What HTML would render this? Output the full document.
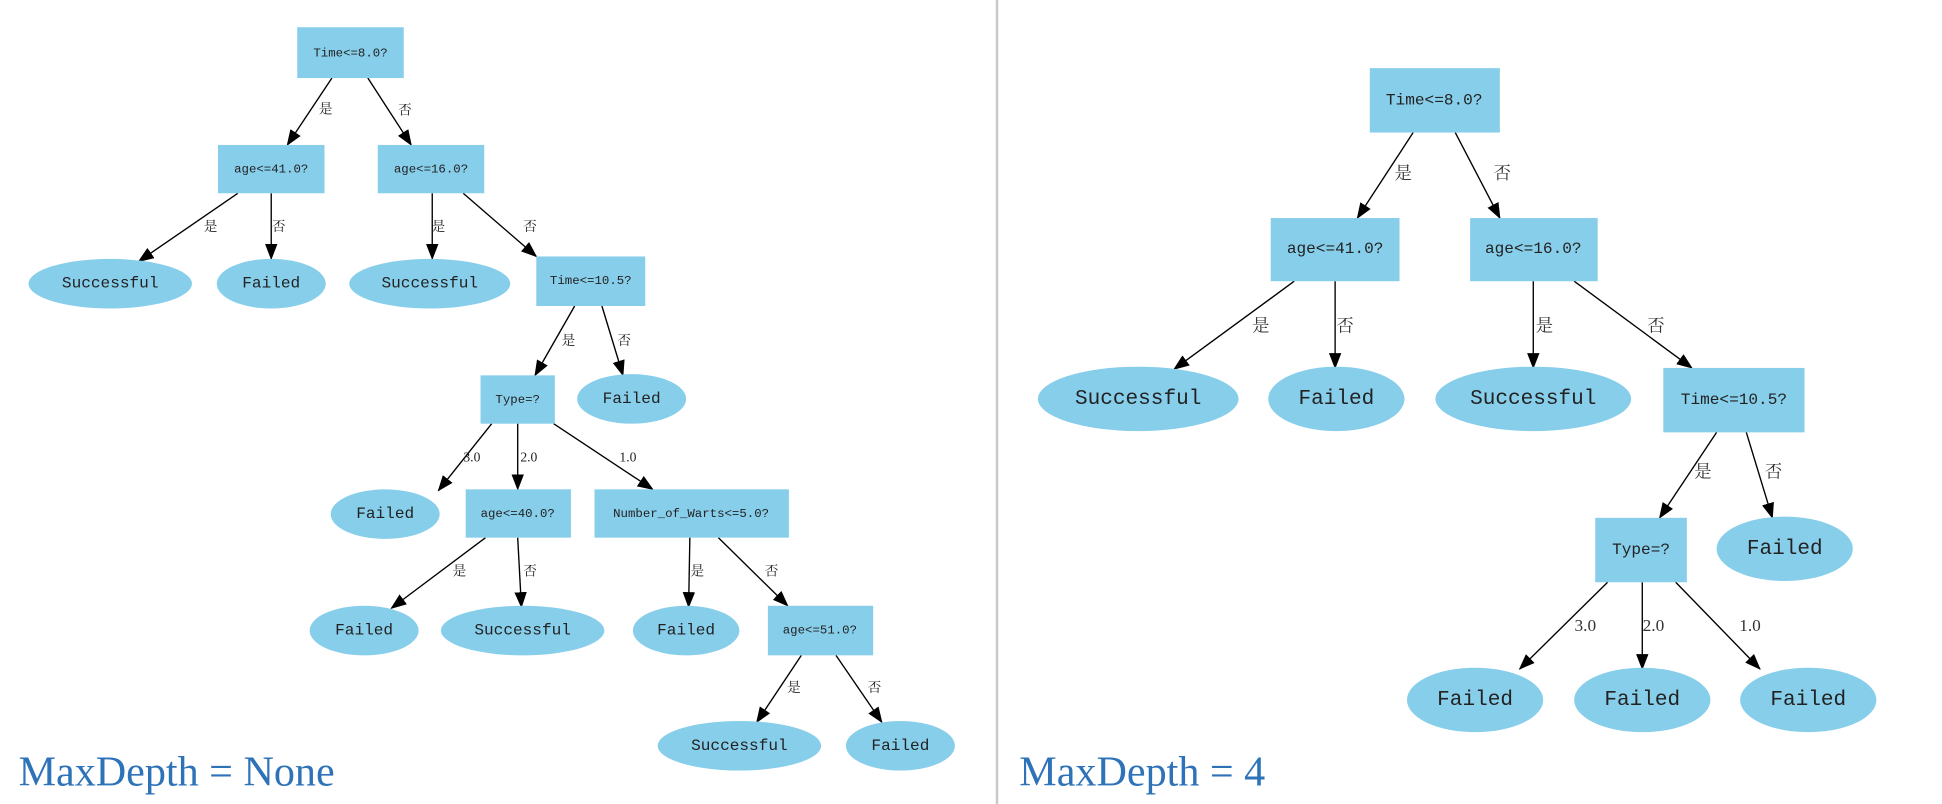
<!DOCTYPE html>
<html><head><meta charset="utf-8"><style>
html,body{margin:0;padding:0;background:#fff;}
svg{display:block;}
.n{fill:#87ceeb;}
.t{font-family:"Liberation Mono","Noto Sans CJK SC",monospace;fill:#222;text-anchor:middle;dominant-baseline:central;}
.e{stroke:#000;stroke-width:1.1;fill:none;marker-end:url(#a);}
.l{font-family:"Liberation Serif","Noto Serif CJK SC",serif;fill:#222;font-size:11px;text-anchor:middle;dominant-baseline:central;}
.l2{font-family:"Liberation Serif","Noto Serif CJK SC",serif;fill:#333;font-size:14px;text-anchor:middle;dominant-baseline:central;}
.ttl{font-family:"Liberation Serif",serif;fill:#2e72b8;font-size:34px;}
</style></head><body>
<svg width="1942" height="804" viewBox="0 0 1568 649" preserveAspectRatio="none">
<defs><marker id="a" markerWidth="13" markerHeight="10" refX="12" refY="5" orient="auto" markerUnits="userSpaceOnUse"><path d="M0,0 L13,5 L0,10 Z" fill="#000"/></marker></defs>
<line x1="805" y1="0" x2="805" y2="649" stroke="#c8c8c8" stroke-width="2"/>

<!-- LEFT TREE -->
<g>
<line class="e" x1="268" y1="63" x2="232" y2="117"/><text class="l" x="263" y="88">是</text>
<line class="e" x1="297" y1="63" x2="332" y2="117"/><text class="l" x="327" y="89">否</text>
<line class="e" x1="192" y1="156" x2="112" y2="211"/><text class="l" x="170" y="183">是</text>
<line class="e" x1="219" y1="156" x2="219" y2="209"/><text class="l" x="225" y="183">否</text>
<line class="e" x1="349" y1="156" x2="349" y2="209"/><text class="l" x="354" y="183">是</text>
<line class="e" x1="374" y1="156" x2="433" y2="207"/><text class="l" x="428" y="183">否</text>
<line class="e" x1="464" y1="247" x2="432" y2="303"/><text class="l" x="459" y="275">是</text>
<line class="e" x1="486" y1="247" x2="503" y2="303"/><text class="l" x="504" y="275">否</text>
<line class="e" x1="397" y1="342" x2="354" y2="396"/><text class="l" x="381" y="369">3.0</text>
<line class="e" x1="418" y1="342" x2="418" y2="395"/><text class="l" x="427" y="369">2.0</text>
<line class="e" x1="447" y1="342" x2="527" y2="395"/><text class="l" x="507" y="369">1.0</text>
<line class="e" x1="392" y1="434" x2="316" y2="491"/><text class="l" x="371" y="461">是</text>
<line class="e" x1="418" y1="434" x2="421" y2="490"/><text class="l" x="428" y="461">否</text>
<line class="e" x1="557" y1="434" x2="556" y2="490"/><text class="l" x="563" y="461">是</text>
<line class="e" x1="580" y1="434" x2="636" y2="489"/><text class="l" x="623" y="461">否</text>
<line class="e" x1="647" y1="529" x2="611" y2="583"/><text class="l" x="641" y="555">是</text>
<line class="e" x1="675" y1="529" x2="712" y2="583"/><text class="l" x="706" y="555">否</text>

<rect class="n" x="240" y="22" width="86" height="41"/><text class="t" x="283" y="43" font-size="10">Time&lt;=8.0?</text>
<rect class="n" x="176" y="117" width="86" height="39"/><text class="t" x="219" y="137" font-size="10">age&lt;=41.0?</text>
<rect class="n" x="305" y="117" width="86" height="39"/><text class="t" x="348" y="137" font-size="10">age&lt;=16.0?</text>
<ellipse class="n" cx="89" cy="229" rx="66" ry="20"/><text class="t" x="89" y="229" font-size="13">Successful</text>
<ellipse class="n" cx="219" cy="229" rx="44" ry="20"/><text class="t" x="219" y="229" font-size="13">Failed</text>
<ellipse class="n" cx="347" cy="229" rx="65" ry="20"/><text class="t" x="347" y="229" font-size="13">Successful</text>
<rect class="n" x="433" y="207" width="88" height="40"/><text class="t" x="477" y="227" font-size="10">Time&lt;=10.5?</text>
<rect class="n" x="388" y="303" width="60" height="39"/><text class="t" x="418" y="323" font-size="10">Type=?</text>
<ellipse class="n" cx="510" cy="322" rx="44" ry="20"/><text class="t" x="510" y="322" font-size="13">Failed</text>
<ellipse class="n" cx="311" cy="415" rx="44" ry="20"/><text class="t" x="311" y="415" font-size="13">Failed</text>
<rect class="n" x="376" y="395" width="85" height="39"/><text class="t" x="418" y="415" font-size="10">age&lt;=40.0?</text>
<rect class="n" x="480" y="395" width="157" height="39"/><text class="t" x="558" y="415" font-size="10">Number_of_Warts&lt;=5.0?</text>
<ellipse class="n" cx="294" cy="509" rx="44" ry="20"/><text class="t" x="294" y="509" font-size="13">Failed</text>
<ellipse class="n" cx="422" cy="509" rx="66" ry="20"/><text class="t" x="422" y="509" font-size="13">Successful</text>
<ellipse class="n" cx="554" cy="509" rx="43" ry="20"/><text class="t" x="554" y="509" font-size="13">Failed</text>
<rect class="n" x="620" y="489" width="85" height="40"/><text class="t" x="662" y="509" font-size="10">age&lt;=51.0?</text>
<ellipse class="n" cx="597" cy="602" rx="66" ry="20"/><text class="t" x="597" y="602" font-size="13">Successful</text>
<ellipse class="n" cx="727" cy="602" rx="44" ry="20"/><text class="t" x="727" y="602" font-size="13">Failed</text>
<text class="ttl" x="15" y="634">MaxDepth = None</text>
</g>

<!-- RIGHT TREE -->
<g>
<line class="e" x1="1141" y1="107" x2="1096" y2="176"/><text class="l2" x="1133" y="140">是</text>
<line class="e" x1="1175" y1="107" x2="1211" y2="176"/><text class="l2" x="1213" y="140">否</text>
<line class="e" x1="1045" y1="227" x2="948" y2="298"/><text class="l2" x="1018" y="263">是</text>
<line class="e" x1="1078" y1="227" x2="1078" y2="297"/><text class="l2" x="1086" y="263">否</text>
<line class="e" x1="1238" y1="227" x2="1238" y2="297"/><text class="l2" x="1247" y="263">是</text>
<line class="e" x1="1271" y1="227" x2="1366" y2="297"/><text class="l2" x="1337" y="263">否</text>
<line class="e" x1="1386" y1="349" x2="1340" y2="418"/><text class="l2" x="1375" y="381">是</text>
<line class="e" x1="1410" y1="349" x2="1431" y2="418"/><text class="l2" x="1432" y="381">否</text>
<line class="e" x1="1298" y1="470" x2="1227" y2="540"/><text class="l2" x="1280" y="505">3.0</text>
<line class="e" x1="1326" y1="470" x2="1326" y2="540"/><text class="l2" x="1335" y="505">2.0</text>
<line class="e" x1="1353" y1="470" x2="1421" y2="540"/><text class="l2" x="1413" y="505">1.0</text>

<rect class="n" x="1106" y="55" width="105" height="52"/><text class="t" x="1158" y="81" font-size="13">Time&lt;=8.0?</text>
<rect class="n" x="1026" y="176" width="104" height="51"/><text class="t" x="1078" y="201" font-size="13">age&lt;=41.0?</text>
<rect class="n" x="1187" y="176" width="103" height="51"/><text class="t" x="1238" y="201" font-size="13">age&lt;=16.0?</text>
<ellipse class="n" cx="919" cy="322" rx="81" ry="26"/><text class="t" x="919" y="322" font-size="17">Successful</text>
<ellipse class="n" cx="1079" cy="322" rx="55" ry="26"/><text class="t" x="1079" y="322" font-size="17">Failed</text>
<ellipse class="n" cx="1238" cy="322" rx="79" ry="26"/><text class="t" x="1238" y="322" font-size="17">Successful</text>
<rect class="n" x="1343" y="297" width="114" height="52"/><text class="t" x="1400" y="323" font-size="13">Time&lt;=10.5?</text>
<rect class="n" x="1288" y="418" width="74" height="52"/><text class="t" x="1325" y="444" font-size="13">Type=?</text>
<ellipse class="n" cx="1441" cy="443" rx="55" ry="26"/><text class="t" x="1441" y="443" font-size="17">Failed</text>
<ellipse class="n" cx="1191" cy="565" rx="55" ry="26"/><text class="t" x="1191" y="565" font-size="17">Failed</text>
<ellipse class="n" cx="1326" cy="565" rx="55" ry="26"/><text class="t" x="1326" y="565" font-size="17">Failed</text>
<ellipse class="n" cx="1460" cy="565" rx="55" ry="26"/><text class="t" x="1460" y="565" font-size="17">Failed</text>
<text class="ttl" x="823" y="634">MaxDepth = 4</text>
</g>
</svg>
</body></html>
